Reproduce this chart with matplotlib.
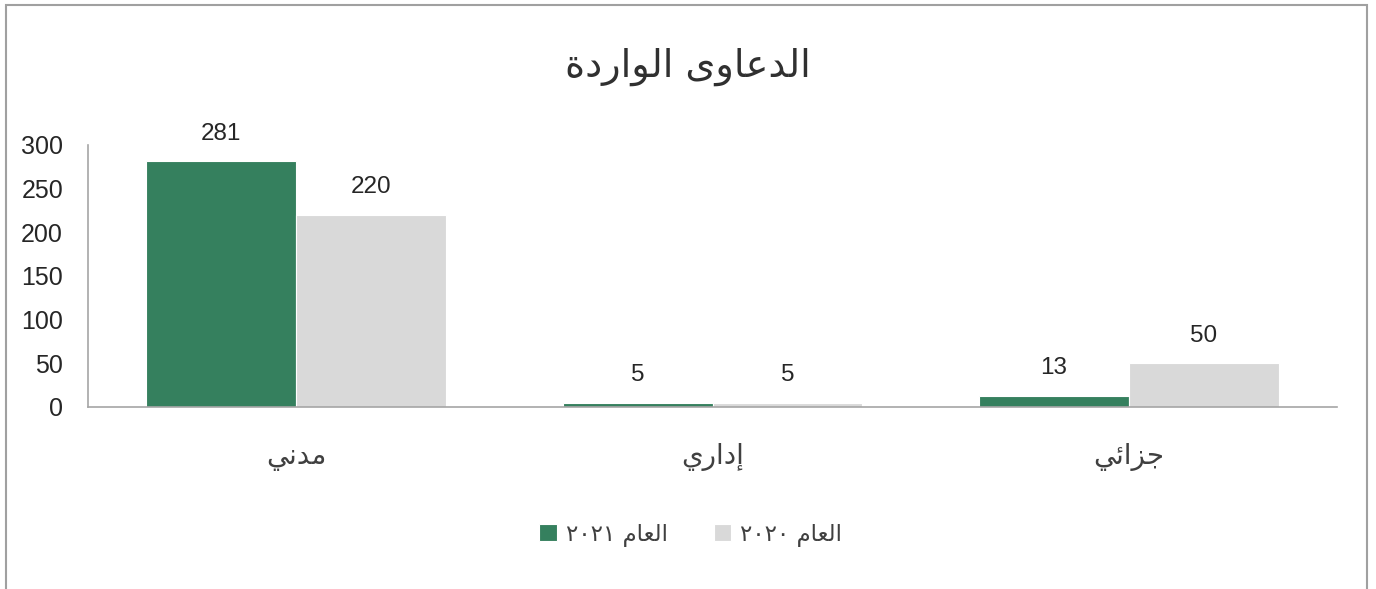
import numpy as np
import matplotlib.pyplot as plt
from matplotlib.patches import Rectangle

# ============================================================
# DATA
# ============================================================
# Arabic strings are written in presentation forms, visual order,
# because matplotlib does no shaping / right-to-left layout.
# logical: مدني ، إداري ، جزائي
categories = ["\ufef2\ufee7\ufeaa\ufee3", "\ufef1\ufead\ufe8d\ufea9\ufe87", "\ufef2\ufe8b\ufe8d\ufeb0\ufe9f"]
values_2021 = [281, 5, 13]
values_2020 = [220, 5, 50]

# logical: العام ٢٠٢١ / العام ٢٠٢٠
label_2021 = "\u0662\u0660\u0662\u0661 \ufee1\ufe8e\ufecc\ufedf\ufe8d"
label_2020 = "\u0662\u0660\u0662\u0660 \ufee1\ufe8e\ufecc\ufedf\ufe8d"

# logical: الدعاوى الواردة
title = "\ufe93\ufea9\ufead\ufe8d\ufeee\ufedf\ufe8d \ufeef\ufeed\ufe8e\ufecb\ufeaa\ufedf\ufe8d"

yticks = [0, 50, 100, 150, 200, 250, 300]

# ============================================================
# STYLE
# ============================================================
green = "#35805e"
grey = "#d9d9d9"
axis_col = "#a6a6a6"
text_col = "#262626"
num_font = ["Liberation Sans Narrow", "Liberation Sans", "DejaVu Sans"]
ar_font = ["DejaVu Sans"]

fig = plt.figure(figsize=(13.76, 5.89), dpi=100)
ax = fig.add_axes([0.064, 0.309, 0.9077, 0.445])

# outer chart border
fig.patches.append(Rectangle((6 / 1376, -0.05), (1367 - 6) / 1376, 1.05 - 5 / 589,
                             transform=fig.transFigure, fill=False,
                             edgecolor="#a0a0a0", linewidth=1.5))

x = np.arange(len(categories))
w = 0.36

bars1 = ax.bar(x - w / 2, values_2021, w, color=green, edgecolor="white",
               linewidth=0.8, label=label_2021)
bars2 = ax.bar(x + w / 2, values_2020, w, color=grey, edgecolor="white",
               linewidth=0.8, label=label_2020)

for bars in (bars1, bars2):
    for b in bars:
        ax.annotate(str(int(b.get_height())),
                    (b.get_x() + b.get_width() / 2, b.get_height()),
                    xytext=(0, 12), textcoords="offset points",
                    ha="center", va="bottom", fontsize=17.5,
                    family=num_font, color=text_col)

ax.set_xlim(-0.5, 2.5)
ax.set_ylim(0, 300)
ax.set_yticks(yticks)
ax.set_yticklabels([str(t) for t in yticks], family=num_font, fontsize=18,
                   color=text_col)
ax.tick_params(axis="y", length=0, pad=18)
ax.set_xticks(x)
ax.set_xticklabels(categories, family=ar_font, fontsize=20, color="#404040")
ax.tick_params(axis="x", length=0, pad=26)

for s in ("top", "right"):
    ax.spines[s].set_visible(False)
for s in ("left", "bottom"):
    ax.spines[s].set_color(axis_col)
    ax.spines[s].set_linewidth(1.2)

fig.text(0.5, 0.887, title, ha="center", va="center", fontsize=27.5,
         family=ar_font, color="#303030")

fig.legend(handles=[bars1, bars2], loc="center", bbox_to_anchor=(0.502, 0.092),
           ncol=2, frameon=False, prop={"family": ar_font, "size": 16.5},
           handlelength=0.75, handleheight=0.75, handletextpad=0.4,
           columnspacing=2.0, labelcolor="#404040")

fig.savefig("out.png", dpi=100)
